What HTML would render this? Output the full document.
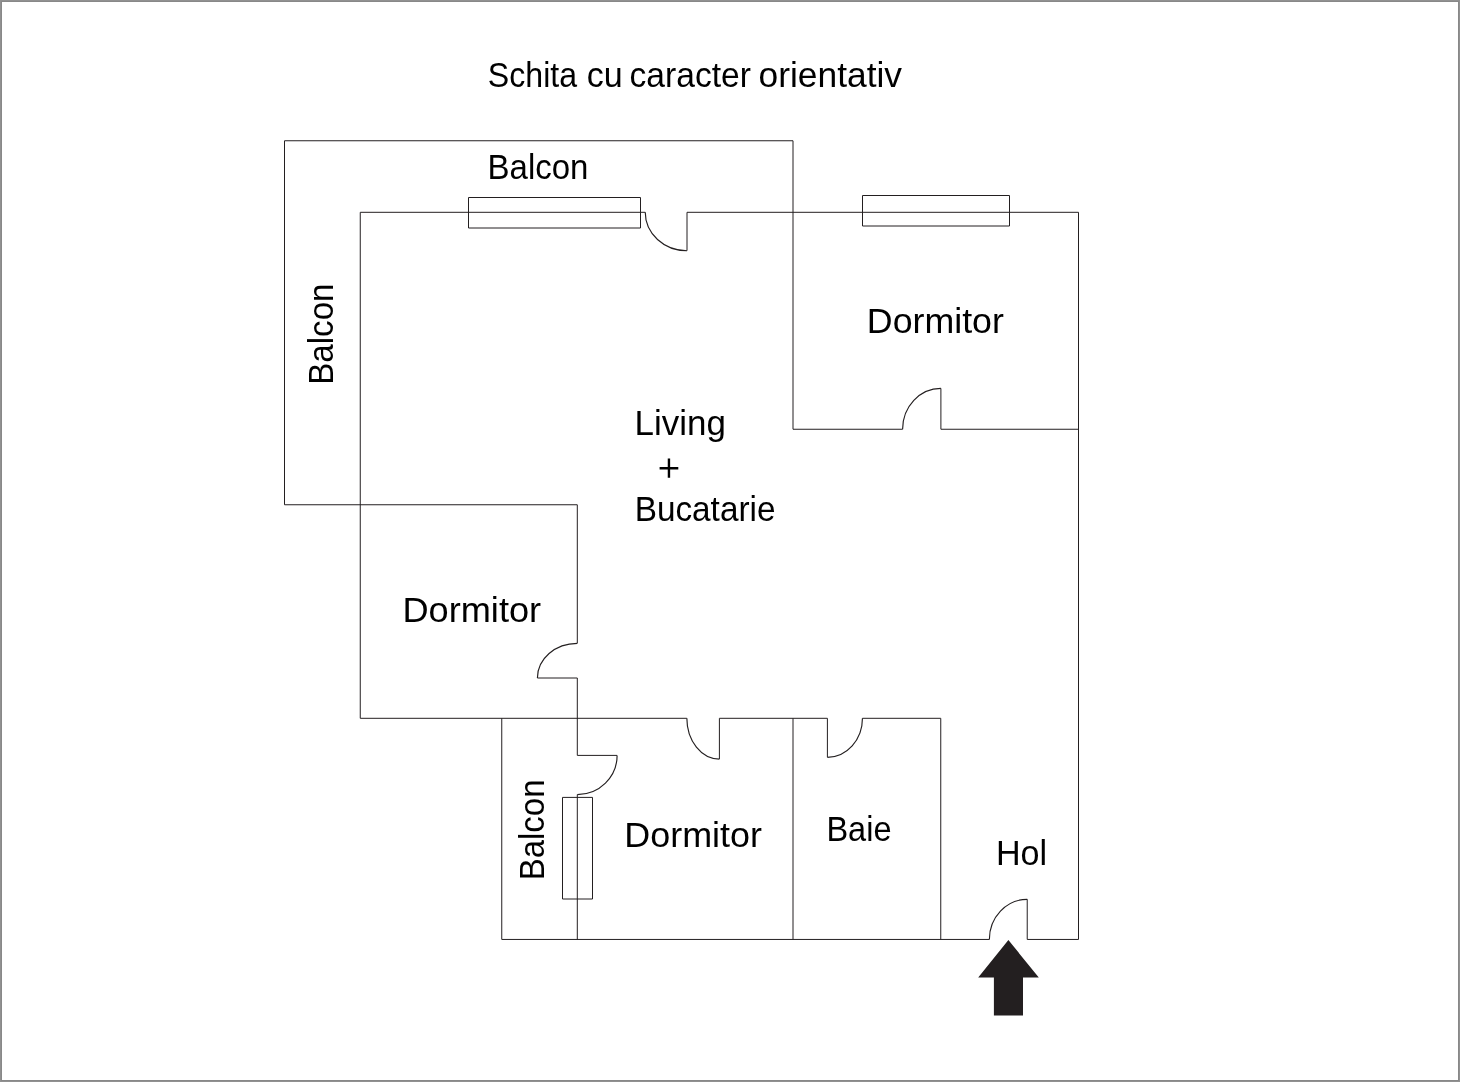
<!DOCTYPE html>
<html><head><meta charset="utf-8"><style>
html,body{margin:0;padding:0;background:#fff;}
body{width:1460px;height:1082px;overflow:hidden;position:relative;}
.frame{position:absolute;left:0;top:0;width:1458px;height:1080px;border:1px solid #919191;box-shadow:inset 0 0 0 1px #888888;}
svg{position:absolute;left:0;top:0;will-change:transform;}
text{font-family:"Liberation Sans",sans-serif;fill:#000;}
</style></head><body>
<div class="frame"></div>
<svg width="1460" height="1082" viewBox="0 0 1460 1082">
<g fill="none" stroke="#231f20" stroke-width="1.0" stroke-linejoin="miter" stroke-linecap="butt">
<path d="M284.5,504.75 V140.75 H793.0 V429.25"/>
<path d="M284.5,504.75 H577.3"/>
<path d="M360.25,212.3 H645.25 M687.0,250.7 V212.3 H1078.5 V939.45"/>
<path d="M360.25,212.3 V718.3"/>
<path d="M793.0,429.25 H902.6 M940.9,388.4 V429.25 H1078.5"/>
<path d="M577.3,504.75 V643.3 M537.4,678.0 H577.3 V755.4 H617.1 M577.3,794.55 V939.45"/>
<path d="M360.25,718.3 H686.86 M719.4,759.06 V718.3 H827.4 V757.3 M862.45,718.3 H940.75 V939.45"/>
<path d="M501.75,718.3 V939.45 H989.35 M1027.23,899.3 V939.45 H1078.5"/>
<path d="M793.0,718.3 V939.45"/>
<path d="M468.5,197.5 H640.5 V228.0 H468.5 Z"/>
<path d="M862.5,195.5 H1009.5 V226.0 H862.5 Z"/>
<path d="M562.5,797.4 H592.5 V899.0 H562.5 Z"/>
</g>
<g fill="none" stroke="#231f20" stroke-width="1.15">
<path d="M645.25,212.3 A41.75,38.4 0 0 0 687.0,250.7"/>
<path d="M902.6,429.25 A38.3,40.85 0 0 1 940.9,388.4"/>
<path d="M577.3,643.3 A39.9,34.7 0 0 0 537.4,678.0"/>
<path d="M617.1,755.4 A39.8,39.15 0 0 1 577.3,794.55"/>
<path d="M686.86,718.3 A32.54,40.76 0 0 0 719.4,759.06"/>
<path d="M827.4,757.3 A35.05,39.0 0 0 0 862.45,718.3"/>
<path d="M989.35,939.45 A37.88,40.15 0 0 1 1027.23,899.3"/>
</g>
<polygon points="1008.4,940.1 1038.8,977.5 1023,977.5 1023,1015.5 993.9,1015.5 993.9,977.5 978.2,977.5" fill="#231f20"/>
<path d="M659.6,468.2 H678.3 M668.95,458.6 V477.8" stroke="#000" stroke-width="2.4" fill="none"/>
<text transform="translate(487.82,87.00) scale(0.8970,1)" font-size="35.8">Schita</text>
<text transform="translate(586.67,87.00) scale(0.9517,1)" font-size="35.8">cu</text>
<text transform="translate(629.49,87.00) scale(0.9392,1)" font-size="35.8">caracter</text>
<text transform="translate(758.51,87.00) scale(0.9880,1)" font-size="35.8">orientativ</text>
<text transform="translate(487.59,178.60) scale(0.9218,1)" font-size="35.8">Balcon</text>
<text transform="translate(332.70,384.82) rotate(-90) scale(0.9257,1)" font-size="35.8">Balcon</text>
<text transform="translate(866.87,332.90) scale(0.9987,1)" font-size="35.8">Dormitor</text>
<text transform="translate(634.53,435.20) scale(0.9764,1)" font-size="35.8">Living</text>
<text transform="translate(634.67,520.70) scale(0.9311,1)" font-size="35.8">Bucatarie</text>
<text transform="translate(402.43,621.50) scale(1.0106,1)" font-size="35.8">Dormitor</text>
<text transform="translate(543.80,880.30) rotate(-90) scale(0.9209,1)" font-size="35.8">Balcon</text>
<text transform="translate(624.36,847.10) scale(1.0032,1)" font-size="35.8">Dormitor</text>
<text transform="translate(826.43,841.20) scale(0.9083,1)" font-size="35.8">Baie</text>
<text transform="translate(996.00,864.80) scale(0.9524,1)" font-size="35.8">Hol</text>
</svg>
</body></html>
